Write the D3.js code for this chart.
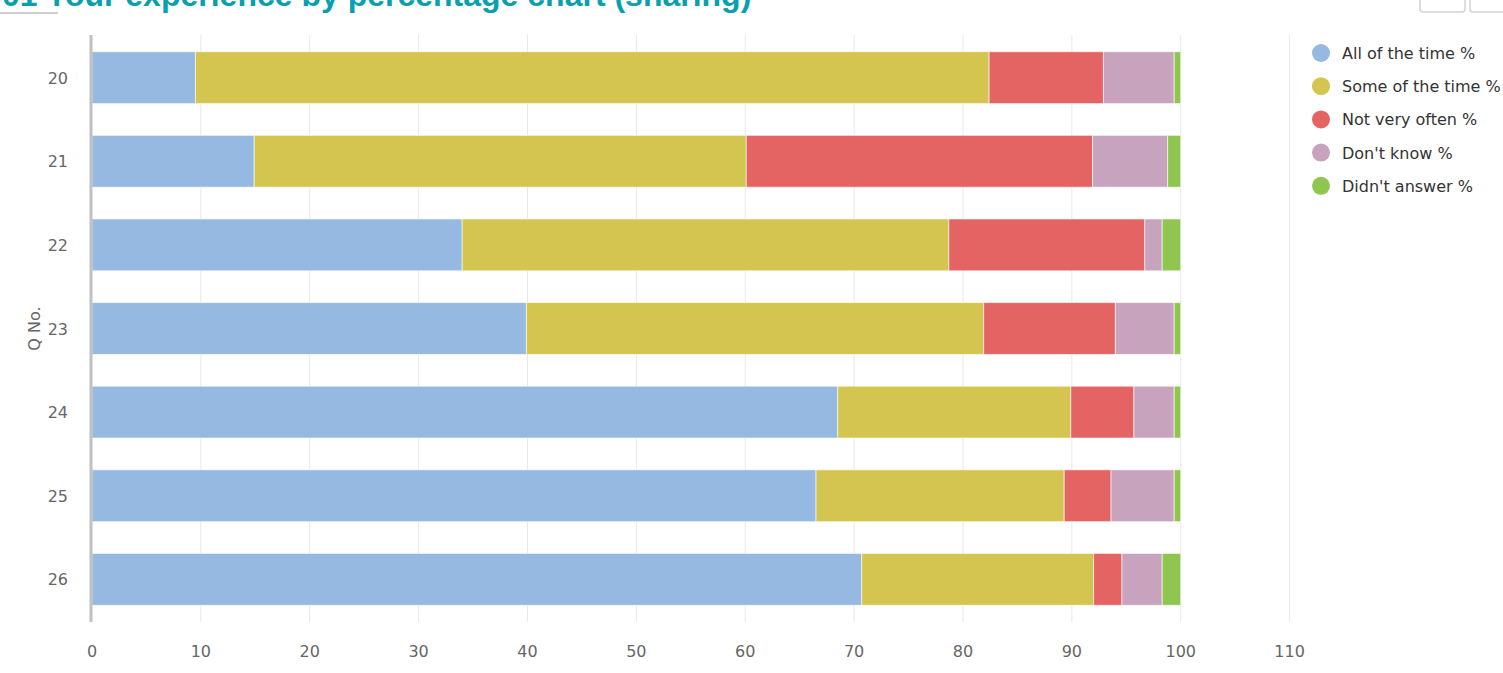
<!DOCTYPE html>
<html>
<head>
<meta charset="utf-8">
<script src="https://cdn.jsdelivr.net/npm/d3@7"></script>
<style>
  html, body { margin: 0; padding: 0; background: #ffffff; overflow: hidden; }
  svg { display: block; }
</style>
</head>
<body>
<svg id="chart" width="1503" height="673"></svg>
<script>
var questions = ['20', '21', '22', '23', '24', '25', '26'];
var seriesNames = ['All of the time %', 'Some of the time %', 'Not very often %', "Don't know %", "Didn't answer %"];
var seriesColors = ['#95b9e1', '#d4c550', '#e46463', '#c8a3be', '#8fc650'];
var allOfTheTime = [9.5, 14.9, 34.0, 39.9, 68.5, 66.5, 70.7];
var someOfTheTime = [72.9, 45.2, 44.7, 42.0, 21.4, 22.8, 21.3];
var notVeryOften = [10.5, 31.8, 18.0, 12.1, 5.8, 4.3, 2.6];
var dontKnow = [6.5, 6.9, 1.6, 5.4, 3.7, 5.8, 3.7];
var didntAnswer = [0.6, 1.2, 1.7, 0.6, 0.6, 0.6, 1.7];
var xTicks = [0, 10, 20, 30, 40, 50, 60, 70, 80, 90, 100, 110];

var svg = d3.select('#chart');
var values = [allOfTheTime, someOfTheTime, notVeryOften, dontKnow, didntAnswer];
var labelFont = '"DejaVu Sans", Verdana, sans-serif';

// rows for d3.stack
var rows = questions.map(function(q, i) {
  var row = { q: q };
  seriesNames.forEach(function(name, k) {
    row[name] = values[k][i];
  });
  return row;
});

var plotTop = 35;
var plotBottom = 622;

var x = d3.scaleLinear()
  .domain([0, 110])
  .range([92, 1289.6]);

var y = d3.scaleBand()
  .domain(questions)
  .range([plotTop, plotBottom])
  .paddingInner(0.38)
  .paddingOuter(0.2);

// title, partly above the top of the page as in the screenshot
svg.append('text')
  .attr('x', 2)
  .attr('y', 6)
  .style('font-family', '"Liberation Sans", Arial, sans-serif')
  .style('font-size', '32px')
  .style('font-weight', 'bold')
  .style('fill', '#0a9fae')
  .text('01 Your experience by percentage chart (sharing)');

svg.append('line')
  .attr('x1', 0).attr('x2', 58)
  .attr('y1', 13).attr('y2', 13)
  .attr('stroke', '#cfcfcf')
  .attr('stroke-width', 2);

// the two buttons at top right (only their bottoms show)
[[1420, 45], [1470, 40]].forEach(function(b) {
  svg.append('rect')
    .attr('x', b[0]).attr('y', -20)
    .attr('width', b[1]).attr('height', 32)
    .attr('rx', 3)
    .attr('fill', '#ffffff')
    .attr('stroke', '#d4d4d4')
    .attr('stroke-width', 1.5);
});

// grid
svg.selectAll('.grid-line')
  .data(xTicks.filter(function(d) { return d > 0; }))
  .enter().append('line')
  .attr('class', 'grid-line')
  .attr('x1', function(d) { return x(d); })
  .attr('x2', function(d) { return x(d); })
  .attr('y1', plotTop)
  .attr('y2', plotBottom)
  .attr('stroke', '#e8e8e8')
  .attr('stroke-width', 1);

// stacked bars
var stacked = d3.stack().keys(seriesNames)(rows);

svg.selectAll('.series')
  .data(stacked)
  .enter().append('g')
  .attr('class', 'series')
  .attr('fill', function(d, i) { return seriesColors[i]; })
  .selectAll('rect')
  .data(function(d) { return d; })
  .enter().append('rect')
  .attr('x', function(d) { return x(d[0]); })
  .attr('y', function(d) { return y(d.data.q); })
  .attr('width', function(d) { return x(d[1]) - x(d[0]); })
  .attr('height', y.bandwidth())
  .attr('stroke', '#ffffff')
  .attr('stroke-opacity', 0.6)
  .attr('stroke-width', 1);

// zero line
svg.append('line')
  .attr('x1', x(0) - 1).attr('x2', x(0) - 1)
  .attr('y1', plotTop).attr('y2', plotBottom)
  .attr('stroke', '#c0c0c0')
  .attr('stroke-width', 3);

// category labels
svg.selectAll('.cat-label')
  .data(questions)
  .enter().append('text')
  .attr('class', 'cat-label')
  .attr('x', 68)
  .attr('y', function(d) { return y(d) + y.bandwidth() / 2 + 6; })
  .style('text-anchor', 'end')
  .style('font-family', labelFont)
  .style('font-size', '16px')
  .style('fill', '#666666')
  .text(function(d) { return d; });

// x tick labels
svg.selectAll('.tick-label')
  .data(xTicks)
  .enter().append('text')
  .attr('class', 'tick-label')
  .attr('x', function(d) { return x(d); })
  .attr('y', 657)
  .style('text-anchor', 'middle')
  .style('font-family', labelFont)
  .style('font-size', '16px')
  .style('fill', '#666666')
  .text(function(d) { return d; });

// y axis title
svg.append('text')
  .attr('transform', 'translate(40,' + ((plotTop + plotBottom) / 2) + ') rotate(-90)')
  .style('text-anchor', 'middle')
  .style('font-family', labelFont)
  .style('font-size', '16px')
  .style('fill', '#666666')
  .text('Q No.');

// legend
var legend = svg.selectAll('.legend-item')
  .data(seriesNames)
  .enter().append('g')
  .attr('class', 'legend-item')
  .attr('transform', function(d, i) {
    return 'translate(1321,' + (53 + i * 33.2) + ')';
  });

legend.append('circle')
  .attr('r', 9)
  .attr('fill', function(d, i) { return seriesColors[i]; });

legend.append('text')
  .attr('x', 21)
  .attr('y', 6)
  .style('font-family', labelFont)
  .style('font-size', '16px')
  .style('fill', '#333333')
  .text(function(d) { return d; });
</script>
</body>
</html>
